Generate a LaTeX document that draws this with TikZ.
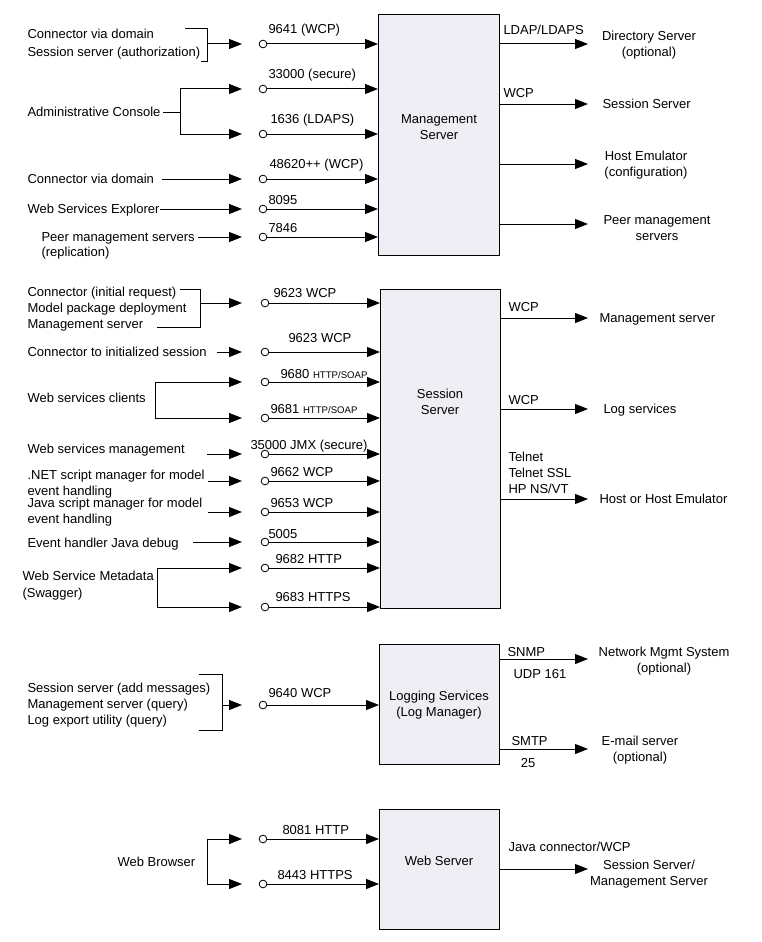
\documentclass[tikz,border=0pt]{standalone}
\usepackage{fontspec}
\setmainfont{Liberation Sans}
\usetikzlibrary{arrows.meta}
\definecolor{boxfill}{RGB}{239,238,244}
\newcommand{\smf}{\fontsize{7.2}{8}\selectfont}
% input port: #1 name, #2 circle x, #3 y, #4 label x, #5 label y, #6 label, #7 box
\newcommand{\inport}[7]{%
  \node[port] (#1) at (#2,#3) {};
  \coordinate (#1t) at (242,#3);
  \node[tl] (#1l) at (#4,#5) {#6};
  \draw[arr] (#1) -- (#1 -| #7.west);
}
% output: #1 name, #2 box, #3 y
\newcommand{\outport}[3]{%
  \coordinate (#1) at (588,#3);
  \draw[arr] (#1 -| #2.east) -- (#1);
}
\begin{document}
\begin{tikzpicture}[x=0.75pt,y=-0.75pt,
  line width=0.75pt,
  arr/.style={-{Triangle[length=9.75pt,width=7.5pt]}},
  box/.style={draw, fill=boxfill, inner sep=0, anchor=north west},
  port/.style={circle, draw, fill=white, inner sep=0, minimum size=5.8pt, line width=0.6pt},
  txt/.style={inner sep=0, font=\fontsize{9.75}{12}\selectfont, execute at begin node={\vphantom{(}}, yshift=3.75pt},
  tl/.style={txt, anchor=north west, align=left},
  tc/.style={txt, anchor=north, align=center}]
\useasboundingbox (0,0) rectangle (762,942);

% ================= Management Server =================
\node[box, minimum width=90.75pt, minimum height=180.75pt] (ms) at (378,14) {};
\node[tc] (msl) at (439,119) {Management\\Server};

\inport{mp1}{263}{44}{268}{29}{9641 (WCP)}{ms}
\inport{mp2}{263}{89}{268}{74}{33000 (secure)}{ms}
\inport{mp3}{263}{134}{270}{119}{1636 (LDAPS)}{ms}
\inport{mp4}{263}{179}{269}{164}{48620++ (WCP)}{ms}
\inport{mp5}{263}{209}{268}{200}{8095}{ms}
\inport{mp6}{263}{237}{268}{228}{7846}{ms}

\node[tl, font=\fontsize{9.75}{13.2}\selectfont] (msrc1) at (27,34) {Connector via domain\\Session server (authorization)};
\coordinate (mb1a) at (185,29); \coordinate (mb1b) at (207,29);
\coordinate (mb1c) at (207,62); \coordinate (mb1d) at (201,62);
\draw (mb1a) -- (mb1b) -- (mb1c) -- (mb1d);
\draw[arr] (mb1b |- mp1t) -- (mp1t);

\node[tl] (msrc2) at (27,112) {Administrative Console};
\coordinate (mb2s) at (163,112); \coordinate (mb2) at (180,112);
\draw (mb2s) -- (mb2);
\draw[arr] (mb2 |- mp3t) -- (mb2 |- mp2t) -- (mp2t);
\draw[arr] (mb2 |- mp2t) -- (mb2 |- mp3t) -- (mp3t);

\node[tl] (msrc3) at (27,179) {Connector via domain};
\coordinate (mb3) at (162,179);
\draw[arr] (mb3) -- (mp4t);

\node[tl] (msrc4) at (27,209) {Web Services Explorer};
\coordinate (mb4) at (160,209);
\draw[arr] (mb4) -- (mp5t);

\node[tl, font=\fontsize{9.75}{11.2}\selectfont] (msrc5) at (41,237) {Peer management servers\\(replication)};
\coordinate (mb5) at (198,237);
\draw[arr] (mb5) -- (mp6t);

\outport{mo1}{ms}{44}
\outport{mo2}{ms}{104}
\outport{mo3}{ms}{164}
\outport{mo4}{ms}{224}
\node[tl] (mol1) at (503,30) {LDAP/LDAPS};
\node[tl] (mol2) at (503,93) {WCP};
\node[tc] (mt1) at (649,36) {Directory Server\\(optional)};
\node[tl] (mt2) at (602,104) {Session Server};
\node[tc] (mt3) at (646,156) {Host Emulator\\(configuration)};
\node[tc] (mt4) at (657,220) {Peer management\\servers};

% ================= Session Server =================
\node[box, minimum width=90pt, minimum height=239.25pt] (ss) at (380,289) {};
\node[tc] (ssl) at (440,394) {Session\\Server};

\inport{sp1}{265}{303}{273}{293}{9623 WCP}{ss}
\inport{sp2}{265}{352}{288}{338}{9623 WCP}{ss}
\inport{sp3}{265}{382}{280}{374}{9680 {\smf HTTP/SOAP}}{ss}
\inport{sp4}{265}{418}{270}{409}{9681 {\smf HTTP/SOAP}}{ss}
\inport{sp5}{265}{454}{250}{445}{35000 JMX (secure)}{ss}
\inport{sp6}{265}{481}{270}{472}{9662 WCP}{ss}
\inport{sp7}{265}{512}{270}{503}{9653 WCP}{ss}
\inport{sp8}{265}{542}{268}{534}{5005}{ss}
\inport{sp9}{265}{568}{275}{559}{9682 HTTP}{ss}
\inport{sp10}{265}{607}{275}{597}{9683 HTTPS}{ss}

\node[tl] (ssrc1) at (27,292) {Connector (initial request)\\Model package deployment\\Management server};
\coordinate (sb1a) at (180,289); \coordinate (sb1b) at (200,289);
\coordinate (sb1c) at (200,327); \coordinate (sb1d) at (157,327);
\draw (sb1a) -- (sb1b) -- (sb1c) -- (sb1d);
\draw[arr] (sb1b |- sp1t) -- (sp1t);

\node[tl] (ssrc2) at (27,352) {Connector to initialized session};
\coordinate (sb2) at (217,352);
\draw[arr] (sb2) -- (sp2t);

\node[tl] (ssrc3) at (27,398) {Web services clients};
\coordinate (sb3a) at (155,382); \coordinate (sb3b) at (155,418);
\draw[arr] (sb3b) -- (sb3a) -- (sp3t);
\draw[arr] (sb3a) -- (sb3b) -- (sp4t);

\node[tl] (ssrc4) at (27,449) {Web services management};
\coordinate (sb4) at (207,454);
\draw[arr] (sb4) -- (sp5t);

\node[tl, font=\fontsize{9.75}{11.5}\selectfont] (ssrc5) at (27,475) {.NET script manager for model\\event handling};
\coordinate (sb5) at (208,481);
\draw[arr] (sb5) -- (sp6t);

\node[tl] (ssrc6) at (27,503) {Java script manager for model\\event handling};
\coordinate (sb6) at (208,512);
\draw[arr] (sb6) -- (sp7t);

\node[tl] (ssrc7) at (27,543) {Event handler Java debug};
\coordinate (sb7) at (193,542);
\draw[arr] (sb7) -- (sp8t);

\node[tl, font=\fontsize{9.75}{12.5}\selectfont] (ssrc8) at (22,576) {Web Service Metadata\\(Swagger)};
\coordinate (sb8a) at (157,568); \coordinate (sb8b) at (157,607);
\draw[arr] (sb8b) -- (sb8a) -- (sp9t);
\draw[arr] (sb8a) -- (sb8b) -- (sp10t);

\outport{so1}{ss}{318}
\outport{so2}{ss}{409}
\outport{so3}{ss}{499}
\node[tl] (sol1) at (508,307) {WCP};
\node[tl] (sol2) at (508,400) {WCP};
\node[tl] (sol3) at (508,457) {Telnet\\Telnet SSL\\HP NS/VT};
\node[tl] (st1) at (599,318) {Management server};
\node[tl] (st2) at (603,409) {Log services};
\node[tl] (st3) at (599,499) {Host or Host Emulator};

% ================= Logging Services =================
\node[box, minimum width=90pt, minimum height=90pt] (ls) at (379,644) {};
\node[tc] (lsl) at (439,696) {Logging Services\\(Log Manager)};

\inport{lp1}{263}{705}{268}{693}{9640 WCP}{ls}

\node[tl] (lsrc) at (27,688) {Session server (add messages)\\Management server (query)\\Log export utility (query)};
\coordinate (lb1a) at (199,674); \coordinate (lb1b) at (222,674);
\coordinate (lb1c) at (222,730); \coordinate (lb1d) at (199,730);
\draw (lb1a) -- (lb1b) -- (lb1c) -- (lb1d);
\draw[arr] (lb1b |- lp1t) -- (lp1t);

\outport{lo1}{ls}{659}
\outport{lo2}{ls}{749}
\node[tl] (lol1) at (507,652) {SNMP};
\node[tl] (lol2) at (513,674) {UDP 161};
\node[tl] (lol3) at (511,741) {SMTP};
\node[tc] (lol4) at (528,763) {25};
\node[tc] (lt1) at (664,652) {Network Mgmt System\\(optional)};
\node[tc] (lt2) at (640,741) {E-mail server\\(optional)};

% ================= Web Server =================
\node[box, minimum width=90pt, minimum height=90pt] (ws) at (379,809) {};
\node[tc] (wsl) at (439,861) {Web Server};

\inport{wp1}{263}{839}{282}{830}{8081 HTTP}{ws}
\inport{wp2}{263}{884}{277}{875}{8443 HTTPS}{ws}

\node[tl] (wsrc) at (117,862) {Web Browser};
\coordinate (wb1a) at (207,839); \coordinate (wb1b) at (207,884);
\draw[arr] (wb1b) -- (wb1a) -- (wp1t);
\draw[arr] (wb1a) -- (wb1b) -- (wp2t);

\outport{wo1}{ws}{869}
\node[tl] (wol1) at (508,847) {Java connector/WCP};
\node[tc] (wt1) at (649,865) {Session Server/\\Management Server};

\end{tikzpicture}
\end{document}
